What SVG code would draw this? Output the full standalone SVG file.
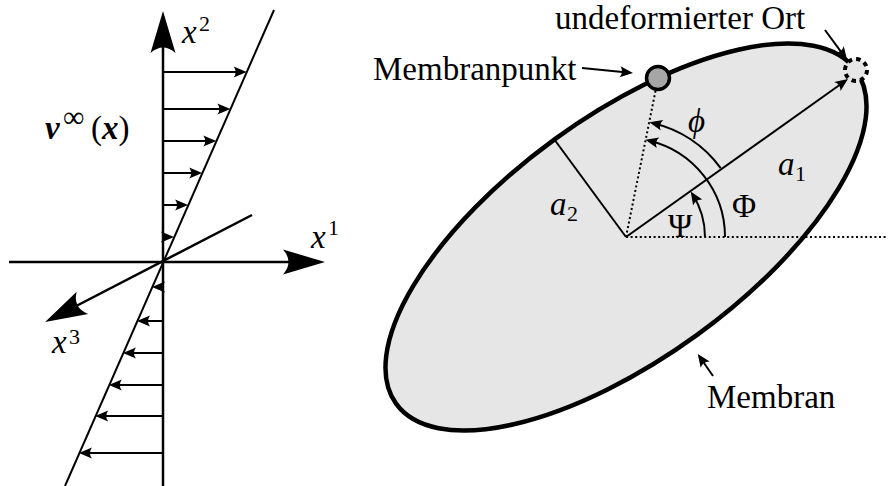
<svg xmlns="http://www.w3.org/2000/svg" width="888" height="486" viewBox="0 0 888 486">
<style>
.ax{stroke:#000;stroke-width:2.5;fill:none}
.th{stroke:#000;stroke-width:2;fill:none}
.dot{stroke:#000;stroke-width:2;fill:none;stroke-dasharray:2 2.6}
.t{font-family:"Liberation Serif","DejaVu Serif","Times New Roman",serif;font-size:33px;fill:#000}
.i{font-style:italic}
.sup{font-size:22px}
.sm{marker-end:url(#sm)}
</style>
<defs>
<marker id="big" viewBox="-44 -14 46 28" markerWidth="46" markerHeight="28" refX="-10" refY="0" orient="auto" markerUnits="userSpaceOnUse"><path d="M0,0 L-42,-12.5 Q-31,0 -42,12.5 Z" fill="#000"/></marker>
<marker id="sm" viewBox="-15 -7 17 14" markerWidth="17" markerHeight="14" refX="-3" refY="0" orient="auto" markerUnits="userSpaceOnUse"><path d="M0,0 L-13,-5.5 Q-9,0 -13,5.5 Z" fill="#000"/></marker>
</defs>
<rect width="888" height="486" fill="#fff"/>

<g id="membrane">
<ellipse cx="626" cy="237" rx="284" ry="121" transform="rotate(-36 626 237)" fill="#e6e6e6" stroke="#000" stroke-width="4.5"/>
</g>

<g id="connectors">
<line class="ax" x1="163" y1="486" x2="163" y2="21" style="marker-end:url(#big)"/>
<line class="ax" x1="9" y1="262" x2="315" y2="262" style="marker-end:url(#big)"/>
<line class="ax" x1="252" y1="215" x2="54" y2="317.5" style="marker-end:url(#big)"/>
<line class="th" x1="274" y1="10" x2="65" y2="486"/>
<line class="th sm" x1="163" y1="72" x2="243.7" y2="72"/>
<line class="th sm" x1="163" y1="109" x2="227.4" y2="109"/>
<line class="th sm" x1="163" y1="141" x2="213.3" y2="141"/>
<line class="th sm" x1="163" y1="173" x2="199.2" y2="173"/>
<line class="th sm" x1="163" y1="205" x2="185.1" y2="205"/>
<line class="th sm" x1="163" y1="237" x2="171" y2="237"/>
<line class="th sm" x1="163" y1="287" x2="155" y2="287"/>
<line class="th sm" x1="163" y1="321" x2="140" y2="321"/>
<line class="th sm" x1="163" y1="353" x2="125.9" y2="353"/>
<line class="th sm" x1="163" y1="385" x2="111.8" y2="385"/>
<line class="th sm" x1="163" y1="416" x2="98.2" y2="416"/>
<line class="th sm" x1="163" y1="453" x2="81.9" y2="453"/>
<line class="dot" x1="626" y1="237" x2="888" y2="237"/>
<line class="dot" x1="626" y1="237" x2="655.5" y2="91"/>
<line class="th sm" x1="626" y1="237" x2="845.5" y2="80.8"/>
<line class="th" x1="626" y1="237" x2="554" y2="139"/>
<path class="th sm" d="M705,237 A79,79 0 0 0 692.3,194"/>
<path class="th sm" d="M725,237 A99,99 0 0 0 648.3,140.5"/>
<path class="th sm" d="M720.7,168.2 A117,117 0 0 0 652.3,123"/>
<line class="th sm" x1="582" y1="68" x2="630" y2="72.7"/>
<line class="th sm" x1="825" y1="30" x2="845.3" y2="57.6"/>
<line class="th sm" x1="713" y1="376" x2="699.5" y2="356.5"/>
</g>

<g id="membranpunkt">
<circle cx="658" cy="78" r="11.5" fill="#a6a6a6" stroke="#000" stroke-width="3.5"/>
</g>
<g id="undeformierter-ort">
<circle cx="856" cy="70" r="11" fill="#e6e6e6" stroke="#000" stroke-width="4" stroke-dasharray="4.5 4.1"/>
</g>

<g id="labels">
<text class="t" x="182" y="43"><tspan class="i">x</tspan><tspan class="sup" x="199" y="31">2</tspan></text>
<text class="t" x="311" y="248"><tspan class="i">x</tspan><tspan class="sup" x="328" y="235">1</tspan></text>
<text class="t" x="52" y="353"><tspan class="i">x</tspan><tspan class="sup" x="69" y="344">3</tspan></text>
<text class="t" x="45" y="139" font-size="35"><tspan font-weight="bold" font-style="italic">v</tspan><tspan x="63" y="127" font-size="30">∞</tspan><tspan x="91" y="139">(</tspan><tspan font-weight="bold" font-style="italic">x</tspan><tspan>)</tspan></text>
<text class="t" x="555" y="29">undeformierter Ort</text>
<text class="t" x="373" y="80">Membranpunkt</text>
<text class="t" x="707" y="408">Membran</text>
<text class="t i" x="688" y="132">ϕ</text>
<text class="t" x="778" y="175"><tspan class="i">a</tspan><tspan class="sup" x="795" y="181">1</tspan></text>
<text class="t" x="550" y="215"><tspan class="i">a</tspan><tspan class="sup" x="567" y="221">2</tspan></text>
<text class="t" x="732" y="217">Φ</text>
<text class="t" x="668" y="237">Ψ</text>
</g>
</svg>
